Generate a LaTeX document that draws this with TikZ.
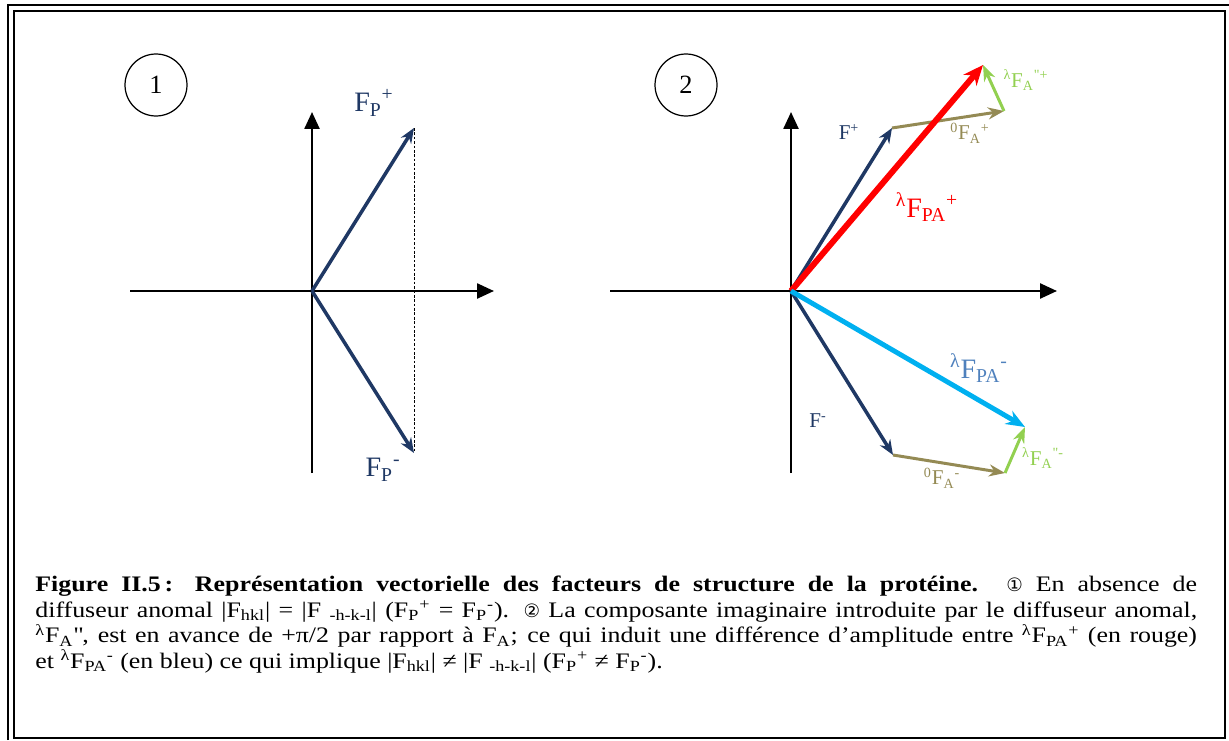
\documentclass[tikz,border=0pt]{standalone}
\usepackage{fontspec}
\setmainfont{Liberation Serif}
\newfontfamily\capfont[FakeStretch=1.17]{Liberation Serif}
\newfontfamily\circfont{DejaVu Sans}
\usetikzlibrary{arrows.meta,positioning}

\definecolor{navy}{RGB}{31,56,100}
\definecolor{olive}{RGB}{148,138,84}
\definecolor{lgreen}{RGB}{146,208,80}
\definecolor{cyanb}{RGB}{0,176,240}
\definecolor{steel}{RGB}{79,129,189}

\newcommand{\Fx}[2]{F\textsubscript{#1}\textsuperscript{#2}}
\newcommand{\lam}{\textsuperscript{λ}}
\newcommand{\circd}[1]{{\circfont\fontsize{10.5}{12}\selectfont #1}}

\begin{document}
\begin{tikzpicture}[x=0.02cm, y=-0.02cm,
  axis/.style={line width=1.4pt, -{Triangle[length=0.34cm, width=0.3cm]}},
  vec/.style={line width=2pt, -{Stealth[length=0.3cm, width=0.24cm]}},
  avec/.style={line width=1.7pt, -{Stealth[length=0.32cm, width=0.24cm]}},
  numcirc/.style={draw, circle, line width=0.7pt, minimum size=1.24cm,
    inner sep=0pt, font=\fontsize{15}{18}\selectfont},
  lbl/.style={inner sep=1pt, font=\fontsize{12}{14}\selectfont},
  biglbl/.style={inner sep=1pt, font=\fontsize{16}{18}\selectfont}]
  \useasboundingbox (0,0) rectangle (1229,740);
  % frame
  \draw[line width=1.7pt] (8,740) -- (8,5) -- (1229,5);
  \draw[line width=1.5pt] (14,11) rectangle (1225,738);

  % panel 1
  \node[numcirc] (n1) at (156,85) {1};
  \coordinate (o1) at (312,291);
  \coordinate (xa1) at (130,291);
  \coordinate (xb1) at (494,291);
  \coordinate (ya1) at (312,473);
  \coordinate (yb1) at (312,112);
  \draw[axis] (xa1) -- (xb1);
  \draw[axis] (ya1) -- (yb1);
  \coordinate (fpp) at (414,128);
  \coordinate (fpm) at (414,453);
  \draw[dash pattern=on 1.5pt off 1pt, line width=0.5pt] (fpp) -- (fpm);
  \draw[vec, navy] (o1) -- (fpp);
  \draw[vec, navy] (o1) -- (fpm);
  \node[biglbl, navy] (lfpp) at (374,103) {\Fx{P}{+}};
  \node[biglbl, navy] (lfpm) at (383,470) {\Fx{P}{-}};

  % panel 2
  \node[numcirc] (n2) at (686,85) {2};
  \coordinate (o2) at (791,291);
  \coordinate (xa2) at (610,291);
  \coordinate (xb2) at (1057,291);
  \coordinate (ya2) at (791,473);
  \coordinate (yb2) at (791,112);
  \draw[axis] (xa2) -- (xb2);
  \draw[axis] (ya2) -- (yb2);
  \coordinate (fp) at (892,128);
  \coordinate (fap) at (1004,111);
  \coordinate (fpap) at (983,65);
  \coordinate (fm) at (893,455);
  \coordinate (fam) at (1005,473);
  \coordinate (fpam) at (1025,427);
  \draw[vec, navy] (o2) -- (fp);
  \draw[vec, navy] (o2) -- (fm);
  \draw[avec, olive] (fp) -- (fap);
  \draw[avec, olive] (fm) -- (fam);
  \draw[avec, lgreen] (fap) -- (fpap);
  \draw[avec, lgreen] (fam) -- (fpam);
  \draw[line width=3.4pt, red, -{Stealth[length=0.4cm, width=0.34cm]}] (o2) -- (fpap);
  \draw[line width=2.8pt, cyanb, -{Stealth[length=0.38cm, width=0.3cm]}] (o2) -- (fpam);
  \node[lbl, navy] (lfp) at (849,132) {F\textsuperscript{+}};
  \node[lbl, navy] (lfm) at (818,421) {F\textsuperscript{-}};
  \node[lbl, olive] (lfap) at (970,133) {\textsuperscript{0}\Fx{A}{+}};
  \node[lbl, olive] (lfam) at (942,478) {\textsuperscript{0}\Fx{A}{-}};
  \node[lbl, lgreen] (lfpp2) at (1026,80) {\lam\Fx{A}{\textquotedbl+}};
  \node[lbl, lgreen] (lfpm2) at (1043,458) {\lam\Fx{A}{\textquotedbl-}};
  \node[biglbl, red] (lpap) at (927,207) {\lam\Fx{PA}{+}};
  \node[biglbl, steel] (lpam) at (979,368) {\lam\Fx{PA}{-}};

  % caption
  \node[anchor=north west, inner sep=0pt, text width=23.24cm, align=justify,
    font=\capfont\fontsize{12.6}{14.5}\selectfont] (cap) at (35,576) {%
    \textbf{Figure II.5\,: Représentation vectorielle des facteurs de structure de la protéine.} \circd{①} En absence de\linebreak
    diffuseur anomal |F\textsubscript{hkl}| = |F \textsubscript{-h-k-l}| (\Fx{P}{+} = \Fx{P}{-}). \circd{②} La composante imaginaire introduite par le diffuseur anomal,\linebreak
    \lam F\textsubscript{A}\textquotedbl, est en avance de +π/2 par rapport à F\textsubscript{A}; ce qui induit une différence d’amplitude entre \lam\Fx{PA}{+} (en rouge)\linebreak
    et \lam\Fx{PA}{-} (en bleu) ce qui implique |F\textsubscript{hkl}| ≠ |F \textsubscript{-h-k-l}| (\Fx{P}{+} ≠ \Fx{P}{-}).};
\end{tikzpicture}
\end{document}
